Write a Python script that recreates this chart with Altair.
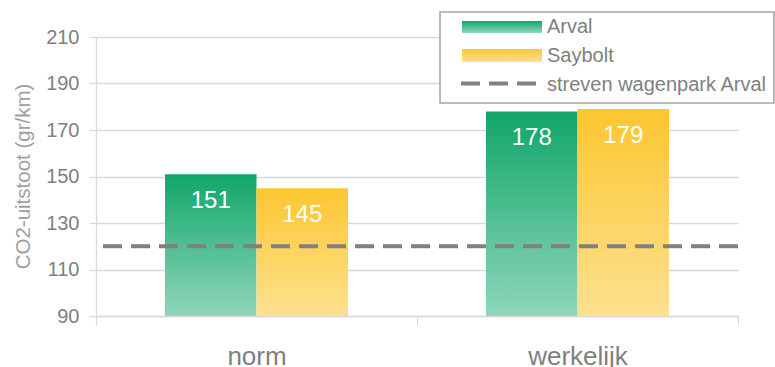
import altair as alt
import pandas as pd

categories = ["norm", "werkelijk"]
series = ["Arval", "Saybolt"]
arval = [151, 178]
saybolt = [145, 179]
target = [120]
target_label = "streven wagenpark Arval"
y_ticks = [90, 110, 130, 150, 170, 190, 210]
y_title = "CO2-uitstoot (gr/km)"

rows = []
for c, a, s in zip(categories, arval, saybolt):
    rows.append({"cat": c, "series": "Arval", "value": a})
    rows.append({"cat": c, "series": "Saybolt", "value": s})
df = pd.DataFrame(rows)

FONT = "Liberation Sans"
GRID = "#d9d9d9"
LABEL = "#7f7f7f"


def grad(top, bottom):
    return alt.Gradient(
        gradient="linear",
        stops=[alt.GradientStop(offset=0, color=top), alt.GradientStop(offset=1, color=bottom)],
        x1=0, x2=0, y1=0, y2=1,
    )


green = grad("#10a66a", "#8fd6ba")
yellow = grad("#fcc630", "#fde190")

x_enc = alt.X(
    "cat:N", sort=categories,
    scale=alt.Scale(paddingInner=0, paddingOuter=0),
    axis=alt.Axis(
        title=None, labelAngle=0, labelFontSize=26, labelColor=LABEL, labelFont=FONT,
        tickBand="extent", tickSize=9, tickColor=GRID, tickWidth=1.3,
        domainColor=GRID, domainWidth=1.3, labelPadding=18,
    ),
)
xoff_enc = alt.XOffset(
    "series:N", sort=series,
    scale=alt.Scale(domain=series, paddingInner=0, paddingOuter=0.754),
)
y_enc = alt.Y(
    "value:Q",
    scale=alt.Scale(domain=[90, 210], zero=False, nice=False),
    axis=alt.Axis(
        values=y_ticks, title=y_title, titleFontSize=20.5, titleColor="#a0a0a0",
        titleFont=FONT, titleFontWeight="normal", titleAngle=270, titleX=-73, titleY=139,
        titleAlign="center", titleBaseline="middle",
        labelFontSize=20, labelColor=LABEL, labelFont=FONT, labelPadding=10,
        tickSize=7, tickColor=GRID, tickWidth=1.3,
        gridColor=GRID, gridWidth=1.3, domainColor=GRID, domainWidth=1.3,
    ),
)

base = alt.Chart(df)

bar_a = base.transform_filter(alt.datum.series == "Arval").mark_bar(color=green).encode(
    x=x_enc, xOffset=xoff_enc, y=y_enc, y2=alt.Y2Datum(90)
)
bar_s = base.transform_filter(alt.datum.series == "Saybolt").mark_bar(color=yellow).encode(
    x=x_enc, xOffset=xoff_enc, y=y_enc, y2=alt.Y2Datum(90)
)

rule = alt.Chart(pd.DataFrame({"value": target})).mark_rule(
    strokeDash=[19, 9], strokeWidth=4, color="#808080"
).encode(y=alt.Y("value:Q"))

labels = base.mark_text(
    baseline="middle", dy=27, color="white", fontSize=24, font=FONT
).encode(x=x_enc, xOffset=xoff_enc, y=alt.Y("value:Q"), text=alt.Text("value:Q"))

one = pd.DataFrame({"k": [0]})
leg_box = alt.Chart(one).mark_rect(fill="white", stroke="#a6a6a6", strokeWidth=1.6).encode(
    x=alt.value(344), x2=alt.value(678), y=alt.value(-25), y2=alt.value(66)
)
leg_a = alt.Chart(one).mark_rect(color=green).encode(
    x=alt.value(366), x2=alt.value(446), y=alt.value(-16), y2=alt.value(-4)
)
leg_s = alt.Chart(one).mark_rect(color=yellow).encode(
    x=alt.value(366), x2=alt.value(446), y=alt.value(12), y2=alt.value(25)
)
leg_r = alt.Chart(one).mark_rule(strokeDash=[19, 9], strokeWidth=4, color="#808080").encode(
    x=alt.value(365), x2=alt.value(440), y=alt.value(46.5)
)
txt_style = dict(align="left", baseline="alphabetic", fontSize=20, font=FONT, color="#808080")
leg_t1 = alt.Chart(one).mark_text(text=series[0], **txt_style).encode(x=alt.value(451), y=alt.value(-4))
leg_t2 = alt.Chart(one).mark_text(text=series[1], **txt_style).encode(x=alt.value(451), y=alt.value(25))
leg_t3 = alt.Chart(one).mark_text(text=target_label, **txt_style).encode(x=alt.value(451), y=alt.value(54))

chart = alt.layer(
    bar_a, bar_s, rule, labels, leg_box, leg_a, leg_s, leg_r, leg_t1, leg_t2, leg_t3
).properties(
    width=642, height=279,
    padding={"left": 96, "top": 37, "right": 37, "bottom": 51},
    autosize=alt.AutoSizeParams(type="none"),
    background="white",
).configure_view(stroke=None)

chart.save("out.html", embed_options={"renderer": "svg", "actions": False})
